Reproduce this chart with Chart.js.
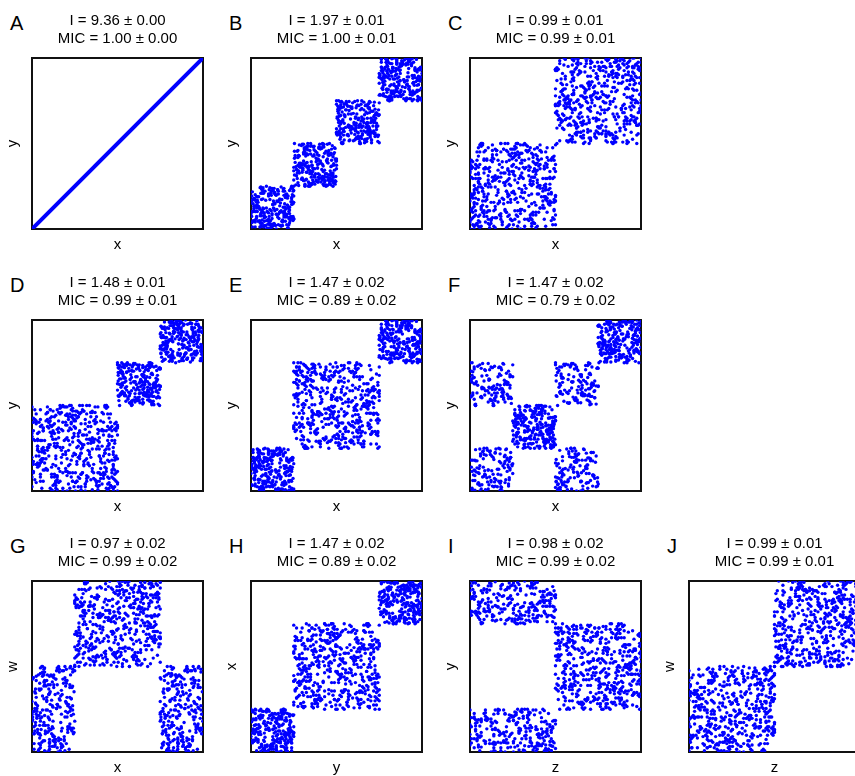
<!DOCTYPE html>
<html><head><meta charset="utf-8">
<script src="https://cdn.jsdelivr.net/npm/chart.js@4.4.1/dist/chart.umd.min.js"></script>
<style>
html,body{margin:0;padding:0;background:#fff;width:855px;height:776px;overflow:hidden;position:relative;}
canvas{position:absolute;}
.lbl{position:absolute;font-family:"Liberation Sans",Arial,Helvetica,sans-serif;font-size:20px;line-height:20px;color:#000;white-space:nowrap;}
</style></head><body>
<script>
// ---------------- data ----------------
const panelLetters = ['A','B','C','D','E','F','G','H','I','J'];
const iMean   = [9.36, 1.97, 0.99, 1.48, 1.47, 1.47, 0.97, 1.47, 0.98, 0.99];
const iErr    = [0.00, 0.01, 0.01, 0.01, 0.02, 0.02, 0.02, 0.02, 0.02, 0.01];
const micMean = [1.00, 1.00, 0.99, 0.99, 0.89, 0.79, 0.99, 0.89, 0.99, 0.99];
const micErr  = [0.00, 0.01, 0.01, 0.01, 0.02, 0.02, 0.02, 0.02, 0.02, 0.01];
const xNames  = ['x','x','x','x','x','x','x','y','z','z'];
const yNames  = ['y','y','y','y','y','y','w','x','y','w'];

// Panel A: straight line y = x
const lineAX = [0, 1];
const lineAY = [0, 1];

// Uniform blocks of points: [xFrom, xTo, yFrom, yTo, number of points]
const blocksB = [[0,0.25,0,0.25,250],[0.25,0.5,0.25,0.5,250],[0.5,0.75,0.5,0.75,250],[0.75,1,0.75,1,250]];
const blocksC = [[0,0.5,0,0.5,500],[0.5,1,0.5,1,500]];
const blocksD = [[0,0.5,0,0.5,500],[0.5,0.75,0.5,0.75,250],[0.75,1,0.75,1,250]];
const blocksE = [[0,0.25,0,0.25,250],[0.25,0.75,0.25,0.75,500],[0.75,1,0.75,1,250]];
const blocksF = [[0,0.25,0,0.25,125],[0,0.25,0.5,0.75,125],[0.25,0.5,0.25,0.5,250],[0.5,0.75,0.5,0.75,125],[0.5,0.75,0,0.25,125],[0.75,1,0.75,1,250]];
const blocksG = [[0,0.25,0,0.5,250],[0.25,0.75,0.5,1,500],[0.75,1,0,0.5,250]];
const blocksH = [[0,0.25,0,0.25,250],[0.25,0.75,0.25,0.75,500],[0.75,1,0.75,1,250]];
const blocksI = [[0,0.5,0.75,1,250],[0,0.5,0,0.25,250],[0.5,1,0.25,0.75,500]];
const blocksJ = [[0,0.5,0,0.5,500],[0.5,1,0.5,1,500]];

// Scatter texture inside a block: typed list of (u,v) pairs, each char one coordinate
const TEX_ALPHA = "0aAbBc1CdDeE2fFgGh3HiIjJ4kKlLm5MnNoO6pPqQr7RsStT8uUvVw9WxXyYzZ";
const TEX = [
"G4q0zTk8WbN2sYf6MiC1xRa9JhE3vPo7LdU5nBgXw",
"t3Kj9mQe1ZrAy7cHp5OlVu2FiSd8bXn0gWk6TfMz4",
"Ds1hJq8LvEa3oYt7CmRw5BxN9kGe2uZi0PfKy6SlH",
"c4IbOn8VrTd1jAq5WgMz3FhX7eUs9pCk0LyDo2EtB",
"6aNv4QiRm9YwGc1lJx7HbSf3KuZp5OdTe8VnAh0Wq",
"2MjIr6FsXg9ByCk4Lo1UtPa7EzDw3iNm5RvQh8bYe",
"0TcGl6JxKu2Sf9nAp4OdWr7HqZj1MyVk3BeIs5CgF",
"8tXo0LmDa6UwPi4RbEh9NzQc2YkTv7GfJl1SxO3nKu",
"5ApWe8Hd0ZrMg6CjIy2VtBq9FoLs4XkUn1DbRh7Em3",
"zaPw5QcN0TiGf8YlKx2SvOe6JdMr9AuHk1WbZt4LpB",
"3nCy7IgXs0FjUq5VoRm8DhEa2PkTz9NwGl6YbKc1Mi",
"4SfOx7JdAe3QrWu0ZtHn9BgLv5CkIp2XmFy8EsRa6D",
"oTj1VbNh4GwUc9MlPq3KzYe7SiOd0AfXr5WtHg2LkB",
"8nJu6CaEx1QmDs9ZyIv4RpFo0TgNb7WhKl3MeUc5Gz",
"2jVdYq8AtSi6PkLr1HwOn4BfXm9EcZa3JuGy7TsD0b",
"5RlMe2QhKo8CvWg1IpNx6FzUa9YdSt3LjBk0GqOm7X",
"4iHc1ErAw5ZnDf8TuJy2PbVs6KlMo9QgWe3CzRh0xI",
"7aGk5NdUt1LqYj4SmBv8FpOe2XiHc6ZrAw9DnKf3Tl",
"Hw3eVz8OkQa1YsCn6UgLd0IxRt4FmBj9PyEi2KoWq",
"b7NhSu5GcXl0ZvDr3MpTa8JfAk1OyWe6QnLi4BsUg",
"9CxHd2VtFz7RmKo5EbYj0NqGa3SwPh8IlDu6TcXv1"
].join("");

// ---------------- build ----------------
const texPts = [];
for (let i = 0; i + 1 < TEX.length; i += 2) {
  texPts.push([TEX_ALPHA.indexOf(TEX[i]) / 61, TEX_ALPHA.indexOf(TEX[i + 1]) / 61]);
}
const P = texPts.length;

function blockPoints(blocks, seedVariant) {
  const out = [];
  let k0 = 0;
  blocks.forEach((b, bi) => {
    const [x0, x1, y0, y1, n] = b;
    const variant = seedVariant + bi * 3;
    for (let i = 0; i < n; i++) {
      const k = k0 + i;
      const p = texPts[k % P];
      const v = (variant + Math.floor(k / P)) % 8;
      let u = p[0], w = p[1];
      if (v & 4) { const t = u; u = w; w = t; }
      if (v & 1) u = 1 - u;
      if (v & 2) w = 1 - w;
      out.push({ x: x0 + u * (x1 - x0), y: y0 + w * (y1 - y0) });
    }
    k0 += n + 37;
  });
  return out;
}

const panelBlocks = [null, blocksB, blocksC, blocksD, blocksE, blocksF, blocksG, blocksH, blocksI, blocksJ];

// layout (pixels)
const colLeft = [32, 251, 470, 689];
const rowTop = [58, 320, 581];
const cellOf = [[0,0],[0,1],[0,2],[1,0],[1,1],[1,2],[2,0],[2,1],[2,2],[2,3]];
const FONT = '"Liberation Sans", Arial, Helvetica, sans-serif';

Chart.defaults.font.family = FONT;
Chart.defaults.color = '#000';

const boxBorder = {
  id: 'boxBorder',
  beforeDatasetsDraw(chart) {
    const a = chart.chartArea, ctx = chart.ctx;
    ctx.save();
    ctx.strokeStyle = '#111';
    ctx.lineWidth = 2;
    ctx.strokeRect(a.left, a.top, a.right - a.left, a.bottom - a.top);
    ctx.restore();
  }
};

panelLetters.forEach((letter, k) => {
  const [r, c] = cellOf[k];
  const bx = colLeft[c], by = rowTop[r];

  const lab = document.createElement('div');
  lab.className = 'lbl';
  lab.textContent = letter;
  lab.style.left = (bx - 22) + 'px';
  lab.style.top = (by - 45) + 'px';
  document.body.appendChild(lab);

  const cv = document.createElement('canvas');
  cv.width = 207; cv.height = 260;
  cv.style.left = (bx - 32) + 'px';
  cv.style.top = (by - 58) + 'px';
  cv.style.width = '207px'; cv.style.height = '260px';
  document.body.appendChild(cv);

  let datasets;
  if (k === 0) {
    datasets = [{
      data: lineAX.map((x, i) => ({ x: x, y: lineAY[i] })),
      showLine: true, borderColor: '#0000ff', borderWidth: 4, borderCapStyle: 'round',
      pointRadius: 0, pointHoverRadius: 0, fill: false
    }];
  } else {
    datasets = [{
      data: blockPoints(panelBlocks[k], k),
      pointRadius: 1.7, pointHoverRadius: 1.7, pointBorderWidth: 0,
      pointBackgroundColor: '#0000ff', borderColor: '#0000ff', backgroundColor: '#0000ff'
    }];
  }

  new Chart(cv, {
    type: 'scatter',
    data: { datasets },
    plugins: [boxBorder],
    options: {
      responsive: false, animation: false, events: [],
      layout: { padding: { left: 0, right: 4, top: 0, bottom: 4.2 } },
      plugins: {
        legend: { display: false },
        tooltip: { enabled: false },
        title: {
          display: true, fullSize: false,
          text: [
            'I = ' + iMean[k].toFixed(2) + ' \u00B1 ' + iErr[k].toFixed(2),
            'MIC = ' + micMean[k].toFixed(2) + ' \u00B1 ' + micErr[k].toFixed(2)
          ],
          font: { size: 15, weight: 'normal', lineHeight: 1.2, family: FONT },
          color: '#000',
          padding: { top: 12, bottom: 10 }
        }
      },
      scales: {
        x: {
          type: 'linear', min: 0, max: 1,
          grid: { display: false, drawTicks: false }, border: { display: false },
          ticks: { display: false },
          title: { display: true, text: xNames[k], color: '#000',
                   font: { size: 15, lineHeight: 1.2, family: FONT }, padding: { top: 6.8, bottom: 2 } }
        },
        y: {
          type: 'linear', min: 0, max: 1,
          grid: { display: false, drawTicks: false }, border: { display: false },
          ticks: { display: false },
          title: { display: true, text: yNames[k], color: '#000',
                   font: { size: 15, lineHeight: 1.2, family: FONT }, padding: { top: 3.8, bottom: 10.2 } }
        }
      }
    }
  });
});
</script>
</body></html>
